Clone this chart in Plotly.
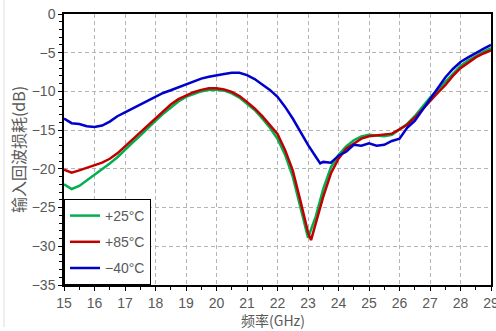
import plotly.graph_objects as go

freq_25 = [15.00, 15.25, 15.50, 15.75, 16.00, 16.25, 16.50, 16.75, 17.00, 17.25, 17.50, 17.75,
           18.00, 18.25, 18.50, 18.75, 19.00, 19.25, 19.50, 19.75, 20.00, 20.25, 20.50, 20.75,
           21.00, 21.25, 21.50, 21.75, 22.00, 22.25, 22.50, 22.75, 23.00, 23.25, 23.50, 23.75,
           24.00, 24.25, 24.50, 24.75, 25.00, 25.25, 25.50, 25.75, 26.00, 26.25, 26.50, 26.75,
           27.00, 27.25, 27.50, 27.75, 28.00, 28.25, 28.50, 28.75, 29.00]
rl_25 = [-22.0, -22.6, -22.2, -21.5, -20.8, -20.1, -19.3, -18.5, -17.5, -16.6, -15.7, -14.7,
         -13.8, -12.9, -12.1, -11.3, -10.7, -10.3, -10.0, -9.8, -9.75, -9.9, -10.25, -10.8,
         -11.55, -12.4, -13.5, -14.7, -16.1, -18.2, -21.0, -24.8, -28.9, -26.2, -22.6, -19.8,
         -18.2, -17.1, -16.3, -15.8, -15.6, -15.7, -15.8, -15.6, -14.9, -14.2, -13.2, -12.0,
         -10.8, -9.8, -8.8, -7.7, -6.7, -6.0, -5.4, -4.9, -4.4]

freq_85 = [15.00, 15.25, 15.50, 15.75, 16.00, 16.25, 16.50, 16.75, 17.00, 17.25, 17.50, 17.75,
           18.00, 18.25, 18.50, 18.75, 19.00, 19.25, 19.50, 19.75, 20.00, 20.25, 20.50, 20.75,
           21.00, 21.25, 21.50, 21.75, 22.00, 22.25, 22.50, 22.75, 23.00, 23.10, 23.25, 23.50,
           23.75, 24.00, 24.25, 24.50, 24.75, 25.00, 25.25, 25.50, 25.75, 26.00, 26.25, 26.50,
           26.75, 27.00, 27.25, 27.50, 27.75, 28.00, 28.25, 28.50, 28.75, 29.00]
rl_85 = [-20.1, -20.5, -20.2, -19.9, -19.6, -19.2, -18.7, -18.0, -17.1, -16.2, -15.2, -14.3,
         -13.4, -12.5, -11.7, -11.0, -10.5, -10.1, -9.8, -9.6, -9.6, -9.75, -10.05, -10.6,
         -11.35, -12.2, -13.2, -14.3, -15.5, -17.6, -20.2, -24.1, -28.2, -29.2, -27.0, -23.6,
         -20.6, -18.7, -17.4, -16.7, -16.1, -15.8, -15.7, -15.6, -15.45, -14.9, -14.3, -13.4,
         -12.3, -11.2, -10.2, -9.2, -8.0, -7.0, -6.3, -5.6, -5.1, -4.7]

freq_m40 = [15.00, 15.25, 15.50, 15.75, 16.00, 16.25, 16.50, 16.75, 17.00, 17.25, 17.50, 17.75,
            18.00, 18.25, 18.50, 18.75, 19.00, 19.25, 19.50, 19.75, 20.00, 20.25, 20.50, 20.75,
            21.00, 21.25, 21.50, 21.75, 22.00, 22.25, 22.50, 22.75, 23.00, 23.25, 23.40, 23.50,
            23.75, 24.00, 24.25, 24.50, 24.75, 25.00, 25.25, 25.50, 25.75, 26.00, 26.25, 26.50,
            26.75, 27.00, 27.25, 27.50, 27.75, 28.00, 28.25, 28.50, 28.75, 29.00]
rl_m40 = [-13.5, -14.1, -14.2, -14.5, -14.6, -14.4, -13.9, -13.2, -12.7, -12.2, -11.6, -11.1,
          -10.6, -10.2, -9.85, -9.45, -9.1, -8.7, -8.35, -8.1, -7.9, -7.75, -7.6, -7.6,
          -7.9, -8.4, -9.1, -9.8, -10.7, -12.0, -13.5, -15.25, -16.9, -18.4, -19.3, -19.1,
          -19.2, -18.3, -17.8, -16.9, -17.0, -16.7, -17.0, -16.9, -16.4, -16.1, -14.7, -13.8,
          -12.4, -11.15, -9.6, -8.2, -7.1, -6.2, -5.6, -5.0, -4.5, -4.0]

series_names = ["+25°C", "+85°C", "−40°C"]
series_colors = ["#00B050", "#C00000", "#0000CC"]

x_title = "频率(GHz)"
y_title = "输入回波损耗(dB)"

cjk_font = "Noto Sans CJK SC, sans-serif"
num_font = "Liberation Sans, Arial, sans-serif"
text_color = "#595959"

fig = go.Figure()
for i, (fx, fy) in enumerate([(freq_25, rl_25), (freq_85, rl_85), (freq_m40, rl_m40)]):
    fig.add_trace(go.Scatter(
        x=fx, y=fy, mode="lines", name=series_names[i], legendgroup=f"g{i}",
        line=dict(color=series_colors[i], width=2.5),
    ))

axis_common = dict(
    showline=True, linecolor="black", linewidth=1.5, mirror=True,
    showgrid=True, gridcolor="#B4B4B4", griddash="4px,3px", gridwidth=1,
    ticks="outside", ticklen=4, tickcolor="black", tickwidth=1,
    tickfont=dict(family=num_font, size=14, color=text_color),
    zeroline=False, ticklabeloverflow="allow", automargin=False,
)

fig.update_layout(
    width=496, height=331,
    margin=dict(l=64, r=5, t=14, b=46),
    paper_bgcolor="white", plot_bgcolor="white",
    font=dict(family=cjk_font, color=text_color),
    xaxis=dict(
        range=[15, 29], dtick=1, tick0=15,
        minor=dict(dtick=0.5, ticks="outside", ticklen=3, tickcolor="black", showgrid=False),
        **axis_common,
    ),
    yaxis=dict(
        range=[-35, 0], dtick=5, tick0=0,
        minor=dict(dtick=1, ticks="outside", ticklen=3, tickcolor="black", showgrid=False),
        title=dict(text=y_title, font=dict(family=cjk_font, size=16, color=text_color), standoff=2),
        **axis_common,
    ),
    legend=dict(
        x=0, y=0, xanchor="left", yanchor="bottom",
        bgcolor="white", bordercolor="black", borderwidth=1,
        font=dict(family=num_font, size=14, color=text_color),
        tracegroupgap=5, itemwidth=30,
    ),
    showlegend=True,
)

fig.add_annotation(
    text=x_title, xref="paper", yref="paper", x=0.49, y=-35/271,
    xanchor="center", yanchor="middle", showarrow=False,
    font=dict(family=cjk_font, size=14, color=text_color),
)

fig.add_shape(type="line", xref="paper", yref="paper",
              x0=-60/427, x1=-60/427, y0=-42/271, y1=14/271 + 1,
              line=dict(color="#DDDDDD", width=1))

fig.write_html("out.html")
